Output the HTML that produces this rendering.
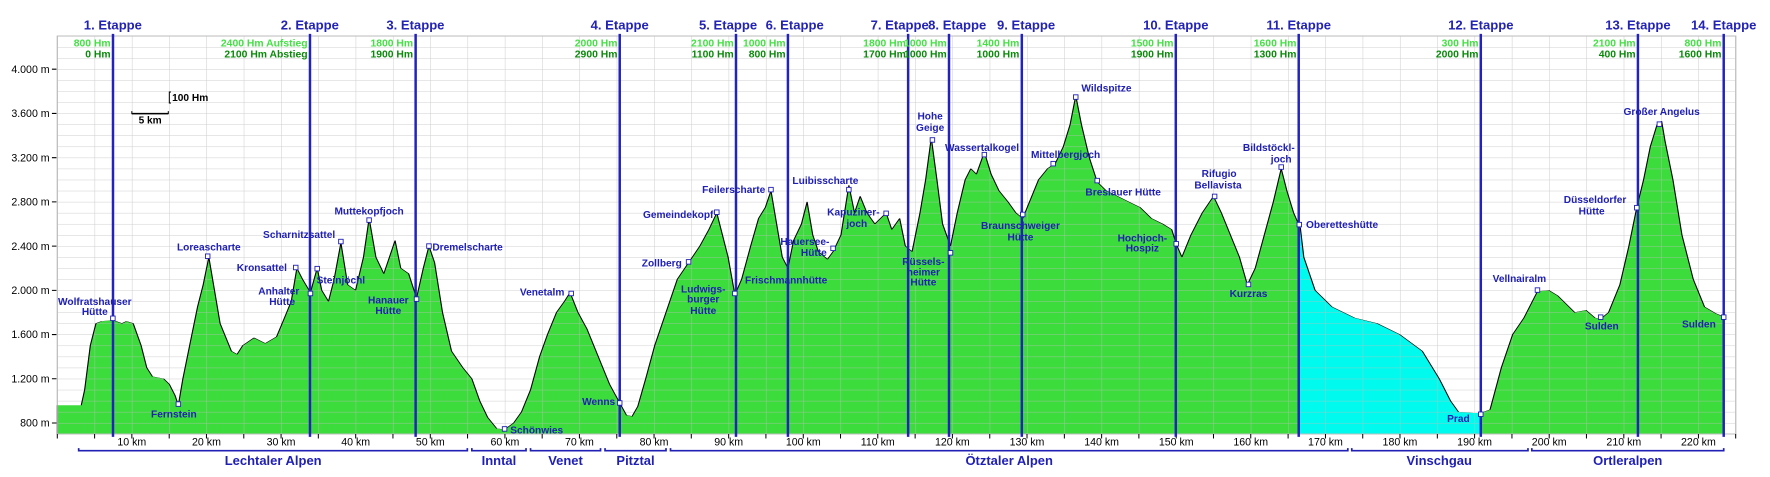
<!DOCTYPE html>
<html><head><meta charset="utf-8"><style>
html,body{margin:0;padding:0;background:#fff;}
svg{display:block;}
text{font-family:"Liberation Sans",Arial,sans-serif;}
.et{font-size:11.6px;font-weight:bold;fill:#2323b4;text-anchor:middle;}
.h1{font-size:9.2px;font-weight:bold;fill:#44e044;text-anchor:end;}
.h2{font-size:9.2px;font-weight:bold;fill:#0a8a0a;text-anchor:end;}
.yl{font-size:9.4px;fill:#000;text-anchor:end;}
.xl{font-size:9.4px;fill:#000;text-anchor:middle;}
.pl{font-size:9px;font-weight:bold;fill:#2020b4;}
.rg{font-size:11.5px;font-weight:bold;fill:#2020b4;text-anchor:middle;}
.c{text-anchor:middle;}.r{text-anchor:end;}
</style></head><body>
<svg width="1770" height="477" viewBox="0 0 1568 422.6" preserveAspectRatio="none" xmlns="http://www.w3.org/2000/svg">
<defs>
<pattern id="grid" patternUnits="userSpaceOnUse" x="50.76" y="31.9" width="33.04" height="9.795">
<path d="M0 0 H33.04 M0 0 V9.795" stroke="#bdbdbd" stroke-width="0.9" fill="none"/>
</pattern>
<clipPath id="cy"><rect x="1150.5" y="0" width="161.3" height="6000"/></clipPath>
<path id="prof" d="M50.76,700 L50.76,960 L72,960 L75,1100 L80,1500 L85,1700 L90,1720 L100,1730 L108,1700 L112,1720 L118,1700 L125,1500 L130,1300 L135,1220 L145,1200 L150,1150 L155,1050 L158,960 L162,1200 L168,1500 L175,1850 L180,2050 L185,2300 L190,2000 L195,1700 L205,1450 L210,1420 L215,1500 L225,1570 L235,1520 L245,1580 L252,1750 L258,1900 L263,2200 L268,2100 L275,1980 L281,2200 L285,2000 L291,1900 L296,2100 L302,2430 L308,2050 L315,2000 L322,2300 L327,2650 L333,2300 L340,2150 L345,2300 L350,2450 L355,2200 L362,2150 L369,1930 L375,2200 L380,2400 L385,2250 L392,1800 L400,1450 L410,1300 L418,1200 L425,1000 L432,850 L440,750 L447,740 L455,800 L462,900 L470,1100 L478,1400 L485,1600 L493,1800 L500,1900 L505,1980 L512,1800 L520,1650 L530,1400 L540,1150 L548,1000 L555,870 L560,860 L565,950 L572,1200 L580,1500 L590,1800 L600,2100 L610,2250 L620,2400 L628,2550 L635,2700 L640,2500 L645,2300 L651,1960 L657,2100 L665,2400 L672,2650 L678,2750 L683,2900 L688,2600 L693,2300 L698,2200 L703,2450 L710,2600 L715,2800 L720,2500 L725,2350 L733,2280 L738,2350 L745,2500 L752,2950 L757,2700 L762,2850 L768,2700 L775,2600 L785,2700 L790,2550 L797,2650 L802,2400 L808,2350 L815,2700 L820,3000 L825,3380 L830,3000 L835,2600 L842,2400 L848,2700 L855,3000 L860,3100 L865,3050 L872,3250 L878,3050 L885,2900 L893,2800 L900,2700 L906,2650 L912,2800 L920,3000 L928,3100 L935,3150 L942,3300 L948,3500 L953,3760 L958,3500 L965,3200 L972,2980 L980,2900 L990,2850 L1000,2800 L1010,2750 L1020,2650 L1030,2600 L1038,2550 L1042,2420 L1047,2300 L1055,2500 L1065,2700 L1075,2850 L1082,2700 L1090,2500 L1098,2300 L1105,2050 L1112,2200 L1120,2500 L1128,2800 L1135,3100 L1140,2900 L1146,2700 L1152,2560 L1155,2300 L1165,2000 L1180,1850 L1200,1750 L1220,1700 L1240,1600 L1260,1450 L1275,1200 L1285,1000 L1292,900 L1305,890 L1312,890 L1320,920 L1330,1300 L1340,1600 L1350,1750 L1362,1990 L1372,2000 L1380,1950 L1395,1800 L1405,1820 L1413,1750 L1418,1740 L1425,1800 L1435,2050 L1443,2400 L1450,2750 L1456,3000 L1462,3300 L1468,3500 L1472,3530 L1475,3350 L1482,3000 L1490,2500 L1500,2100 L1510,1850 L1520,1790 L1527,1760 L1527,700 Z"/>
</defs>
<rect x="50.76" y="31.9" width="1486.9" height="352.6" fill="#fff" stroke="#bdbdbd" stroke-width="0.9"/>
<g transform="translate(0,453.07) scale(1,-0.09795)">
<use href="#prof" fill="#3ddc3d" stroke="none"/>
<use href="#prof" fill="#00fbee" stroke="none" clip-path="url(#cy)"/>
</g>
<rect x="50.76" y="31.9" width="1486.9" height="352.6" fill="url(#grid)" opacity="0.75"/>
<g transform="translate(0,453.07) scale(1,-0.09795)">
<use href="#prof" fill="none" stroke="#000" stroke-width="1" vector-effect="non-scaling-stroke"/>
</g>
<rect x="50.76" y="31.9" width="1486.9" height="352.6" fill="none" stroke="#bdbdbd" stroke-width="0.9"/>

<g class="yl">
<text x="44" y="64.5">4.000 m</text><text x="44" y="103.7">3.600 m</text><text x="44" y="142.9">3.200 m</text>
<text x="44" y="182.1">2.800 m</text><text x="44" y="221.3">2.400 m</text><text x="44" y="260.5">2.000 m</text>
<text x="44" y="299.6">1.600 m</text><text x="44" y="338.8">1.200 m</text><text x="44" y="378">800 m</text>
</g>
<path d="M46 61.3H50M46 100.5H50M46 139.7H50M46 178.9H50M46 218.1H50M46 257.3H50M46 296.4H50M46 335.6H50M46 374.8H50" stroke="#000" stroke-width="0.9"/>
<path d="M50.76 384.5v4M83.8 384.5v4M116.8 384.5v4M149.9 384.5v4M182.9 384.5v4M215.96 384.5v4M249 384.5v4M282 384.5v4M315.1 384.5v4M348.1 384.5v4M381.2 384.5v4M414.2 384.5v4M447.3 384.5v4M480.3 384.5v4M513.3 384.5v4M546.4 384.5v4M579.4 384.5v4M612.4 384.5v4M645.5 384.5v4M678.5 384.5v4M711.6 384.5v4M744.6 384.5v4M777.6 384.5v4M810.7 384.5v4M843.7 384.5v4M876.8 384.5v4M909.8 384.5v4M942.9 384.5v4M975.9 384.5v4M1008.9 384.5v4M1042 384.5v4M1075 384.5v4M1108 384.5v4M1141.1 384.5v4M1174.2 384.5v4M1207.2 384.5v4M1240.2 384.5v4M1273.3 384.5v4M1306.3 384.5v4M1339.4 384.5v4M1372.4 384.5v4M1405.4 384.5v4M1438.5 384.5v4M1471.5 384.5v4M1504.6 384.5v4M1537.6 384.5v4" stroke="#000" stroke-width="0.9"/>
<g class="xl">
<text x="116.8" y="394.5">10 km</text><text x="182.9" y="394.5">20 km</text><text x="249" y="394.5">30 km</text>
<text x="315.1" y="394.5">40 km</text><text x="381.2" y="394.5">50 km</text><text x="447.3" y="394.5">60 km</text>
<text x="513.3" y="394.5">70 km</text><text x="579.4" y="394.5">80 km</text><text x="645.5" y="394.5">90 km</text>
<text x="711.6" y="394.5">100 km</text><text x="777.6" y="394.5">110 km</text><text x="843.7" y="394.5">120 km</text>
<text x="909.8" y="394.5">130 km</text><text x="975.9" y="394.5">140 km</text><text x="1042" y="394.5">150 km</text>
<text x="1108" y="394.5">160 km</text><text x="1174.2" y="394.5">170 km</text><text x="1240.2" y="394.5">180 km</text>
<text x="1306.3" y="394.5">190 km</text><text x="1372.4" y="394.5">200 km</text><text x="1438.5" y="394.5">210 km</text>
<text x="1504.6" y="394.5">220 km</text>
</g>

<g stroke="#2323bb" stroke-width="2.2" fill="none">
<path d="M100.1 30V387M274.6 30V387M368.2 30V387M549 30V387M652 30V387M698 30V387M804.5 30V387M840.7 30V387M905.2 30V387M1041.6 30V387M1150.5 30V387M1311.8 30V387M1451 30V387M1527 30V387"/>
</g>
<g class="et">
<text x="100" y="26">1. Etappe</text><text x="274.5" y="26">2. Etappe</text><text x="368" y="26">3. Etappe</text>
<text x="549" y="26">4. Etappe</text><text x="645" y="26">5. Etappe</text><text x="704" y="26">6. Etappe</text>
<text x="797" y="26">7. Etappe</text><text x="848" y="26">8. Etappe</text><text x="909" y="26">9. Etappe</text>
<text x="1041.6" y="26">10. Etappe</text><text x="1150.5" y="26">11. Etappe</text><text x="1311.8" y="26">12. Etappe</text>
<text x="1451" y="26">13. Etappe</text><text x="1527" y="26">14. Etappe</text>
</g>
<g class="h1">
<text x="98" y="41">800 Hm</text><text x="272.5" y="41">2400 Hm Aufstieg</text><text x="366" y="41">1800 Hm</text>
<text x="547" y="41">2000 Hm</text><text x="650" y="41">2100 Hm</text><text x="696" y="41">1000 Hm</text>
<text x="802.5" y="41">1800 Hm</text><text x="838.7" y="41">1000 Hm</text><text x="903" y="41">1400 Hm</text>
<text x="1039.6" y="41">1500 Hm</text><text x="1148.5" y="41">1600 Hm</text><text x="1309.8" y="41">300 Hm</text>
<text x="1449" y="41">2100 Hm</text><text x="1525" y="41">800 Hm</text>
</g>
<g class="h2">
<text x="98" y="50.8">0 Hm</text><text x="272.5" y="50.8">2100 Hm Abstieg</text><text x="366" y="50.8">1900 Hm</text>
<text x="547" y="50.8">2900 Hm</text><text x="650" y="50.8">1100 Hm</text><text x="696" y="50.8">800 Hm</text>
<text x="802.5" y="50.8">1700 Hm</text><text x="838.7" y="50.8">1000 Hm</text><text x="903" y="50.8">1000 Hm</text>
<text x="1039.6" y="50.8">1900 Hm</text><text x="1148.5" y="50.8">1300 Hm</text><text x="1309.8" y="50.8">2000 Hm</text>
<text x="1449" y="50.8">400 Hm</text><text x="1525" y="50.8">1600 Hm</text>
</g>

<path d="M151.5 81.5h-1.5v9.8h1.5" stroke="#000" stroke-width="0.9" fill="none"/>
<text x="152.5" y="89.5" style="font-size:9px;font-weight:bold">100 Hm</text>
<path d="M116.8 98.5v2.2h32.3v-2.2" stroke="#000" stroke-width="0.9" fill="none"/>
<path d="M116.8 100.7h32.3" stroke="#000" stroke-width="1.3"/>
<text x="133" y="109.5" class="c" style="font-size:9px;font-weight:bold">5 km</text>

<g stroke="#2020b4" stroke-width="0.8" fill="#fff">
<rect x="98" y="280" width="4" height="4"/><rect x="156" y="356" width="4" height="4"/><rect x="182" y="225" width="4" height="4"/>
<rect x="260" y="235" width="4" height="4"/><rect x="273" y="258" width="4" height="4"/><rect x="279" y="236" width="4" height="4"/>
<rect x="300" y="212" width="4" height="4"/><rect x="325" y="193" width="4" height="4"/><rect x="367" y="263" width="4" height="4"/>
<rect x="378" y="216" width="4" height="4"/><rect x="445" y="378" width="4" height="4"/><rect x="504" y="258" width="4" height="4"/>
<rect x="547" y="355" width="4" height="4"/><rect x="608" y="230" width="4" height="4"/><rect x="633" y="186" width="4" height="4"/>
<rect x="649" y="258" width="4" height="4"/><rect x="681" y="166" width="4" height="4"/><rect x="750" y="166" width="4" height="4"/>
<rect x="736" y="218" width="4" height="4"/><rect x="783" y="187" width="4" height="4"/><rect x="824" y="122" width="4" height="4"/>
<rect x="840" y="222" width="4" height="4"/><rect x="870" y="135" width="4" height="4"/><rect x="904" y="188" width="4" height="4"/>
<rect x="931" y="143" width="4" height="4"/><rect x="951" y="84" width="4" height="4"/><rect x="970" y="158" width="4" height="4"/>
<rect x="1040" y="214" width="4" height="4"/><rect x="1074" y="172" width="4" height="4"/><rect x="1104" y="250" width="4" height="4"/>
<rect x="1133" y="146" width="4" height="4"/><rect x="1149" y="197" width="4" height="4"/><rect x="1309.8" y="365" width="4" height="4"/>
<rect x="1360" y="255" width="4" height="4"/><rect x="1416" y="279" width="4" height="4"/><rect x="1448" y="182" width="4" height="4"/>
<rect x="1468" y="108" width="4" height="4"/><rect x="1525" y="279" width="4" height="4"/>
</g>

<g class="pl">
<text x="84" y="270" class="c">Wolfratshauser</text><text x="84" y="279" class="c">Hütte</text>
<text x="154" y="370" class="c">Fernstein</text>
<text x="185" y="222" class="c">Loreascharte</text>
<text x="265" y="211" class="c">Scharnitzsattel</text>
<text x="232" y="240" class="c">Kronsattel</text>
<text x="247" y="261" class="c">Anhalter</text><text x="250" y="270" class="c">Hütte</text>
<text x="302" y="251" class="c">Steinjöchl</text>
<text x="327" y="190" class="c">Muttekopfjoch</text>
<text x="344" y="269" class="c">Hanauer</text><text x="344" y="278" class="c">Hütte</text>
<text x="383" y="222">Dremelscharte</text>
<text x="452" y="384">Schönwies</text>
<text x="500" y="262" class="r">Venetalm</text>
<text x="545" y="359" class="r">Wenns</text>
<text x="604" y="236" class="r">Zollberg</text>
<text x="632" y="193" class="r">Gemeindekopf</text>
<text x="623" y="259" class="c">Ludwigs-</text><text x="623" y="268" class="c">burger</text><text x="623" y="278" class="c">Hütte</text>
<text x="678" y="171" class="r">Feilerscharte</text>
<text x="660" y="251">Frischmannhütte</text>
<text x="702" y="163">Luibisscharte</text>
<text x="713" y="217" class="c">Hauersee-</text><text x="721" y="227" class="c">Hütte</text>
<text x="756" y="191" class="c">Kapuziner-</text><text x="759" y="201" class="c">joch</text>
<text x="824" y="106" class="c">Hohe</text><text x="824" y="116" class="c">Geige</text>
<text x="818" y="235" class="c">Rüssels-</text><text x="818" y="244" class="c">heimer</text><text x="818" y="253" class="c">Hütte</text>
<text x="870" y="134" class="c">Wassertalkogel</text>
<text x="904" y="203" class="c">Braunschweiger</text><text x="904" y="213" class="c">Hütte</text>
<text x="944" y="140" class="c">Mittelbergjoch</text>
<text x="958" y="81">Wildspitze</text>
<text x="995" y="173" class="c">Breslauer Hütte</text>
<text x="1012" y="214" class="c">Hochjoch-</text><text x="1012" y="223" class="c">Hospiz</text>
<text x="1080" y="157" class="c">Rifugio</text><text x="1079" y="167" class="c">Bellavista</text>
<text x="1106" y="263" class="c">Kurzras</text>
<text x="1124" y="134" class="c">Bildstöckl-</text><text x="1135" y="144" class="c">joch</text>
<text x="1157" y="202">Oberetteshütte</text>
<text x="1292" y="374" class="c">Prad</text>
<text x="1346" y="250" class="c">Vellnairalm</text>
<text x="1419" y="292" class="c">Sulden</text>
<text x="1413" y="180" class="c">Düsseldorfer</text><text x="1410" y="190" class="c">Hütte</text>
<text x="1472" y="102" class="c">Großer Angelus</text>
<text x="1505" y="290" class="c">Sulden</text>
</g>

<g stroke="#2020b4" stroke-width="1.5" fill="none">
<path d="M69.7 397v2.3H414v-2.3"/><path d="M418 397v2.3H466v-2.3"/><path d="M470 397v2.3H532v-2.3"/>
<path d="M536 397v2.3H590v-2.3"/><path d="M594 397v2.3H1194v-2.3"/><path d="M1197.5 397v2.3H1353.6v-2.3"/>
<path d="M1357 397v2.3H1527v-2.3"/>
</g>
<g class="rg">
<text x="242" y="412">Lechtaler Alpen</text><text x="442" y="412">Inntal</text><text x="501" y="412">Venet</text>
<text x="563" y="412">Pitztal</text><text x="894" y="412">Ötztaler Alpen</text><text x="1275" y="412">Vinschgau</text>
<text x="1442" y="412">Ortleralpen</text>
</g>
</svg>
</body></html>
